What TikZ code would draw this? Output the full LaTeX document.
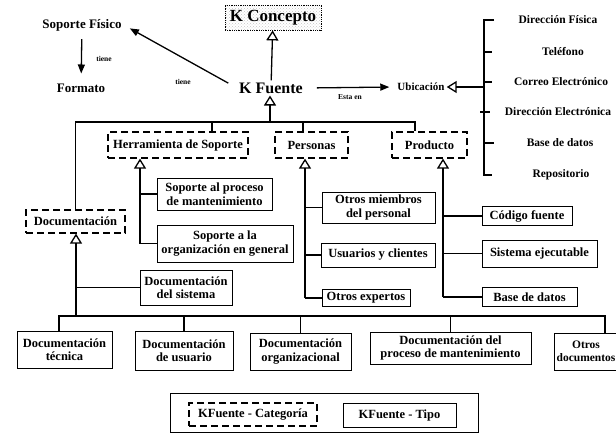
\documentclass[tikz,border=0pt]{standalone}
\usepackage{fontspec}
\setmainfont{Liberation Serif}
\usetikzlibrary{arrows.meta,patterns}
\begin{document}
\begin{tikzpicture}[x=1pt,y=-1pt,
  every node/.style={font=\bfseries\fontsize{12.5}{13.5}\selectfont},
  box/.style={draw,line width=1pt,align=center,inner sep=1pt},
  catbox/.style={box,dash pattern=on 7pt off 4pt,line width=1.2pt},
  txt/.style={inner sep=2pt,font=\bfseries\fontsize{13}{15}\selectfont},
  rtxt/.style={inner sep=2pt,font=\bfseries\fontsize{11.5}{13}\selectfont},
  big/.style={inner sep=2pt,font=\bfseries\fontsize{16}{18}\selectfont},
  lab/.style={inner sep=1pt,font=\bfseries\fontsize{7.5}{8}\selectfont},
  gen/.style={-{Triangle[open,length=10pt,width=12pt,line width=1.3pt]},line width=1.3pt},
  assoc/.style={-{Triangle[length=9pt,width=7pt]},line width=1.3pt},
  conn/.style={line width=1.2pt}]
\useasboundingbox (0,0) rectangle (616,436);

% top part
\node[big,draw,densely dotted,line width=0.8pt,pattern=crosshatch dots,pattern color=gray!45,
      minimum width=96,minimum height=25,inner sep=1pt,font=\bfseries\fontsize{17}{18}\selectfont] (kconc) at (273,17.5) {K Concepto};
\node[big] (kfu) at (271,88) {K Fuente};
\node[txt] (sfis) at (82,25) {Soporte Físico};
\node[txt] (form) at (81,88) {Formato};
\node[rtxt,font=\bfseries\fontsize{11}{13}\selectfont] (ubic) at (421,87) {Ubicación};
\node[lab] (t1) at (104,59) {tiene};
\node[lab] (t2) at (183,82) {tiene};
\node[lab] (t3) at (350,97) {Esta en};

\draw[gen] (kfu) -- (kconc);
\draw[assoc,shorten <=6pt,shorten >=8pt] (sfis) -- (form);
\draw[assoc,shorten <=10pt,shorten >=7pt] (kfu.west) -- (sfis.east);
\draw[assoc,shorten <=12pt,shorten >=6pt] (kfu.east) -- (ubic.west);

% right column
\node[rtxt] (dfis) at (558,20) {Dirección Física};
\node[rtxt] (tel) at (563,52) {Teléfono};
\node[rtxt] (corr) at (561,82) {Correo Electrónico};
\node[rtxt] (delec) at (558,112) {Dirección Electrónica};
\node[rtxt] (bdat1) at (560,143) {Base de datos};
\node[rtxt] (repo) at (561,175) {Repositorio};
\coordinate (ub) at (484,87);
\draw[gen] (ub) -- (ubic.east);
\draw[conn] ([xshift=10pt]dfis.west -| ub) -- (dfis.west -| ub) -- (repo.west -| ub) -- ([xshift=8pt]repo.west -| ub);
\draw[conn] (tel.west -| ub) -- ([xshift=8pt]tel.west -| ub);
\draw[conn] (corr.west -| ub) -- ([xshift=8pt]corr.west -| ub);
\draw[conn] ([xshift=-4pt]delec.west -| ub) -- ([xshift=6pt]delec.west -| ub);
\draw[conn] (bdat1.west -| ub) -- ([xshift=10pt]bdat1.west -| ub);

% categories
\node[catbox,minimum width=140,minimum height=26] (herr) at (178,145) {Herramienta de Soporte};
\node[catbox,minimum width=73,minimum height=26] (pers) at (311.5,145) {Personas};
\node[catbox,minimum width=75,minimum height=26] (prod) at (429.5,145) {Producto};
\node[catbox,minimum width=99,minimum height=23] (doc) at (75.5,221.5) {Documentación};

\coordinate (j0) at (270,122);
\coordinate (bh) at (212,122);
\coordinate (bp) at (303,122);
\coordinate (bq) at (415,122);
\draw[gen] (j0) -- (j0 |- kfu.south);
\draw[conn] (doc.north) -- (doc.north |- j0) -- (bq) -- (bq |- prod.north);
\draw[conn] (bh) -- (bh |- herr.north);
\draw[conn] (bp) -- (bp |- pers.north);

% Herramienta de soporte
\node[box,minimum width=115,minimum height=32] (sap) at (214.5,194) {Soporte al proceso\\de mantenimiento};
\node[box,minimum width=136,minimum height=37] (sog) at (225,243.5) {Soporte a la\\organización en general};
\coordinate (hx) at (140,160);
\draw[gen] (sog.west -| hx) -- (hx |- herr.south);
\draw[conn] (sap.west -| hx) -- (sap.west);
\draw[conn] (sog.west -| hx) -- (sog.west);

% Personas
\node[box,minimum width=113,minimum height=31] (omiem) at (378.5,207.5) {Otros miembros\\del personal};
\node[box,minimum width=114,minimum height=24] (usu) at (378,255) {Usuarios y clientes};
\node[box,minimum width=88,minimum height=17] (oexp) at (366,298) {Otros expertos};
\coordinate (px) at (305,200);
\draw[gen] (oexp.west -| px) -- (px |- pers.south);
\draw[conn] (omiem.west -| px) -- (omiem.west);
\draw[conn] (usu.west -| px) -- (usu.west);
\draw[conn] (oexp.west -| px) -- (oexp.west);

% Producto
\node[box,minimum width=90,minimum height=19] (cfue) at (527,216) {Código fuente};
\node[box,minimum width=115,minimum height=27] (sej) at (539.5,253.5) {Sistema ejecutable};
\node[box,minimum width=95,minimum height=19] (bdat2) at (529.5,297) {Base de datos};
\coordinate (qx) at (443,200);
\draw[gen] (bdat2.west -| qx) -- (qx |- prod.south);
\draw[conn] (cfue.west -| qx) -- (cfue.west);
\draw[conn] (sej.west -| qx) -- (sej.west);
\draw[conn] (bdat2.west -| qx) -- (bdat2.west);

% Documentacion
\node[box,minimum width=92,minimum height=35] (dsis) at (186,287.5) {Documentación\\del sistema};
\node[box,minimum width=95,minimum height=37] (dtec) at (64.5,349.5) {Documentación\\técnica};
\node[box,minimum width=98,minimum height=39] (dusu) at (184,350.5) {Documentación\\de usuario};
\node[box,minimum width=101,minimum height=37] (dorg) at (300.5,351.5) {Documentación\\organizacional};
\node[box,minimum width=161,minimum height=32] (dproc) at (450.5,348) {Documentación del\\proceso de mantenimiento};
\node[box,minimum width=64,minimum height=37,font=\bfseries\fontsize{11.5}{13}\selectfont] (odoc) at (586,351.5) {Otros\\documentos};

\coordinate (dx) at (76,316);
\coordinate (b1) at (59,316);
\coordinate (b5) at (605,316);
\draw[gen] (dx) -- (dx |- doc.south);
\draw[conn] (dsis.west -| dx) -- (dsis.west);
\draw[conn] (b1 |- dtec.north) -- (b1) -- (b5) -- (b5 |- odoc.north);
\draw[conn] (dusu.north |- b1) -- (dusu.north);
\draw[conn] (dorg.north |- b1) -- (dorg.north);
\draw[conn] (dproc.north |- b1) -- (dproc.north);

% legend
\node[draw,line width=0.8pt,minimum width=308,minimum height=39] (leg) at (324,412.5) {};
\node[catbox,minimum width=128,minimum height=23] (lcat) at (253,414.5) {KFuente - Categoría};
\node[box,minimum width=113,minimum height=24] (ltipo) at (399.5,415) {KFuente - Tipo};
\end{tikzpicture}
\end{document}
